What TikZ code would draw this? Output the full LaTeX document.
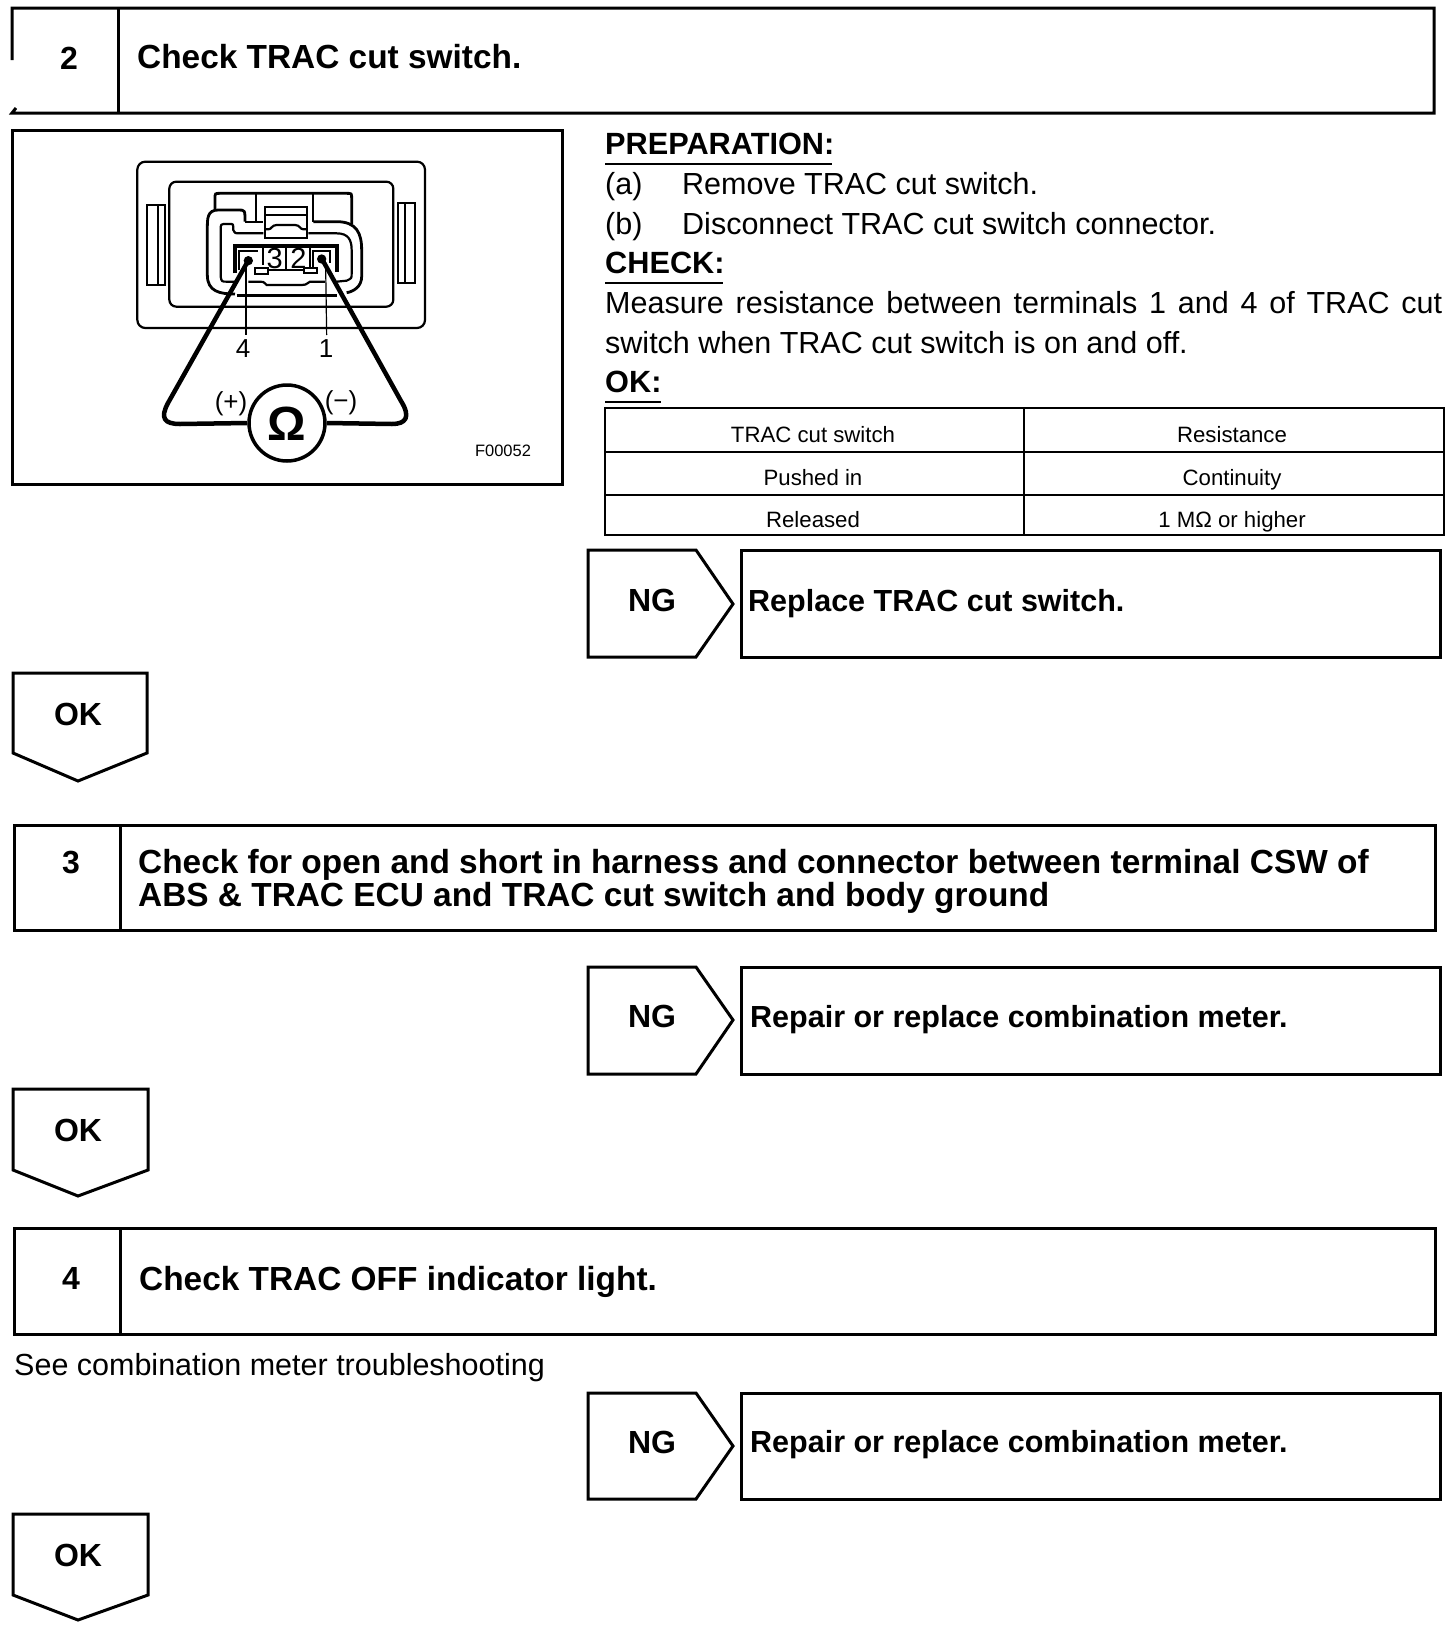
\documentclass[tikz,border=0pt]{standalone}
\usepackage{fontspec}
\setmainfont{Liberation Sans}
\tikzset{
  box/.style={line width=3pt,draw=black,line join=miter},
  part/.style={line width=2.2pt,draw=black},
  wire/.style={line width=4.5pt,draw=black,line join=round},
  thin line/.style={line width=1.2pt,draw=black},
  head/.style={anchor=base west,inner sep=0pt,font=\fontsize{33.4}{36}\selectfont\bfseries},
  heads/.style={anchor=base west,inner sep=0pt,font=\fontsize{30.5}{36}\selectfont\bfseries},
  headb/.style={anchor=base west,inner sep=0pt,font=\fontsize{30.7}{36}\selectfont\bfseries},
  num/.style={anchor=center,inner sep=0pt,font=\fontsize{32}{36}\selectfont\bfseries},
  body/.style={anchor=base west,inner sep=0pt,font=\fontsize{30.5}{36}\selectfont},
  cell/.style={anchor=base,inner sep=0pt,font=\fontsize{22.2}{28}\selectfont},
  small/.style={anchor=center,inner sep=0pt,font=\fontsize{26}{30}\selectfont},
}
\newcommand{\ngtag}[4]{% top, bottom, tip y, name
  \draw[box] (588,#1) -- (696,#1) -- (733,#3) -- (696,#2) -- (588,#2) -- cycle;
  \draw[box] (741,#1) rectangle (1440,#2);
  \node[num] (#4) at (652,#3-4) {NG};}
\newcommand{\oktag}[4]{% top, side bottom, tip y, name
  \draw[box] (13,#1) -- (#4,#1) -- (#4,#2) -- (78,#3) -- (13,#2) -- cycle;
  \node[num] at (78,#1+41) {OK};}
\begin{document}
\begin{tikzpicture}[x=1pt,y=-1pt]
\useasboundingbox (0,0) rectangle (1456,1630);
\fill[white] (0,0) rectangle (1456,1630);
% box 2
\draw[box] (12,60) -- (12,8) -- (1434,8) -- (1434,113) -- (12,113) -- (16,108);
\draw[box] (118,8) -- (118,113);
\node[num] (n2) at (69,58) {2};
\node[head] (t2) at (137,68) {Check TRAC cut switch.};
% illustration frame
\draw[box] (12,130) rectangle (562,484);
\begin{scope}[shift={(120,150)},x=0.33333pt,y=-0.33333pt]
  \draw[part,rounded corners=8pt] (52,35) rectangle (915,534);
  \draw[part,rounded corners=7pt] (148,95) rectangle (820,470);
  \draw[part] (82,165) rectangle (135,405);
  \draw[part] (115,165) -- (115,405);
  \draw[part] (835,158) rectangle (885,400);
  \draw[part] (855,158) -- (855,400);
  % housing outer
  \draw[part,line width=2.8pt] (285,180) -- (285,145) .. controls (285,130) .. (300,130) -- (680,130) .. controls (695,130) .. (695,145) -- (695,222);
  \draw[part,line width=2.8pt] (375,215) .. controls (375,180) .. (355,180) -- (295,180) .. controls (262,180) and (262,205) .. (262,235) -- (262,375) .. controls (262,425) and (300,432) .. (345,432);
  \draw[part,line width=2.8pt] (580,215) -- (650,215) .. controls (710,215) and (725,250) .. (725,300) -- (725,380) .. controls (725,410) and (700,425) .. (680,428);
  \draw[part] (375,215) -- (430,215);
  % housing inner
  \draw[part] (345,395) -- (320,395) .. controls (305,395) .. (302,380) -- (302,240) .. controls (302,222) .. (320,222) -- (330,222) .. controls (340,222) .. (340,240) .. controls (345,250) .. (360,250) -- (430,250);
  \draw[part] (565,250) -- (650,250) .. controls (685,250) and (695,270) .. (695,300) -- (695,370) .. controls (695,385) .. (680,392) -- (650,395);
  \draw[part] (408,130) -- (408,215);
  \draw[part] (580,130) -- (580,215);
  % latch
  \draw[part] (435,170) rectangle (560,265);
  \draw[part] (435,195) -- (560,195);
  \draw[part] (435,238) -- (445,238) .. controls (455,238) and (455,225) .. (470,225) -- (525,225) .. controls (540,225) and (540,238) .. (550,238) -- (560,238);
  % terminal block
  \draw[line width=4pt] (345,370) -- (345,287) -- (650,287) -- (650,365);
  \draw[part] (358,360) -- (358,302) -- (415,302);
  \draw[part] (430,287) -- (430,345);
  \draw[part] (498,287) -- (498,358);
  \draw[part] (570,287) -- (570,350);
  \draw[part] (578,350) -- (578,302) -- (630,302) -- (630,340);
  \draw[part] (405,355) rectangle (443,372);
  \draw[part] (553,353) rectangle (590,370);
  \draw[part] (443,360) -- (553,360);
  \node[anchor=center,inner sep=0pt,font=\fontsize{29}{30}\selectfont] (t3) at (464,327) {3};
  \node[anchor=center,inner sep=0pt,font=\fontsize{29}{30}\selectfont] (t22) at (535,325) {2};
  % lower rim
  \draw[part] (385,395) -- (420,395) .. controls (430,395) .. (440,405) -- (545,405) .. controls (555,405) .. (570,395) -- (615,395);
  \draw[line width=3pt] (350,435) -- (650,435);
  % probe dots
  \fill (385,332) circle (14);
  \fill (605,327) circle (14);
  % thin leader lines
  \draw[thin line] (378,350) -- (378,555);
  \draw[thin line] (617,350) -- (620,555);
\end{scope}
% meter
\node[draw,circle,line width=3.5pt,minimum size=76pt,inner sep=0pt,fill=white] (meter) at (287,423) {};
\node[anchor=center,inner sep=0pt,font=\fontsize{48}{50}\selectfont\bfseries] (omega) at (287,424) {Ω};
\coordinate (p4) at (248,261);
\coordinate (p1) at (322,259);
\draw[wire] (p4) -- (168,403) .. controls (160,418) and (164,424) .. (180,424) -- (meter.180);
\draw[wire] (p1) -- (401,401) .. controls (411,417) and (406,424) .. (392,424) -- (meter.0);
\node[small] (l4) at (243,349) {4};
\node[small] (l1) at (326,349) {1};
\node[small] (lp) at (231,404) {(+)};
\node[small] (lm) at (341,403) {(−)};
\node[anchor=center,inner sep=0pt,font=\fontsize{16.5}{20}\selectfont] (code) at (503,451) {F00052};
% right text
\node[headb] (prep) at (605,154) {PREPARATION:};
\draw[line width=1.6pt] (605,164) -- (832,164);
\node[body] (a1) at (605,194) {(a)};
\node[body] (a2) at (682,194) {Remove TRAC cut switch.};
\node[body] (b1) at (605,234) {(b)};
\node[body] (b2) at (682,234) {Disconnect TRAC cut switch connector.};
\node[headb] (chk) at (605,273) {CHECK:};
\draw[line width=1.6pt] (605,283) -- (723,283);
\node[body] (m1) at (605,313) {\hbox to 837pt{Measure\hfill resistance\hfill between\hfill terminals\hfill 1\hfill and\hfill 4\hfill of\hfill TRAC\hfill cut}};
\node[body] (m2) at (605,353) {switch when TRAC cut switch is on and off.};
\node[headb] (okh) at (605,392) {OK:};
\draw[line width=1.6pt] (605,402) -- (661,402);
% table
\draw[box,line width=2.6pt] (605,408) rectangle (1444,535);
\draw[box,line width=2.6pt] (605,452) -- (1444,452);
\draw[box,line width=2.6pt] (605,495) -- (1444,495);
\draw[box,line width=2.6pt] (1024,408) -- (1024,535);
\node[cell] (c11) at (813,442) {TRAC cut switch};
\node[cell] (c12) at (1232,442) {Resistance};
\node[cell] (c21) at (813,485) {Pushed in};
\node[cell] (c22) at (1232,485) {Continuity};
\node[cell] (c31) at (813,527) {Released};
\node[cell] (c32) at (1232,527) {1 MΩ or higher};
% NG 1
\ngtag{550}{657}{604}{ng1}
\node[heads] (r1) at (748,611) {Replace TRAC cut switch.};
% OK 1
\oktag{673}{753}{781}{147}
% box 3
\draw[box] (14,825) rectangle (1435,930);
\draw[box] (120,825) -- (120,930);
\node[num] (n3) at (71,862) {3};
\node[head] (t3a) at (138,873) {Check for open and short in harness and connector between terminal CSW of};
\node[head] (t3b) at (138,906) {ABS \& TRAC ECU and TRAC cut switch and body ground};
% NG 2
\ngtag{967}{1074}{1020}{ng2}
\node[heads] (r2) at (750,1027) {Repair or replace combination meter.};
% OK 2
\oktag{1089}{1170}{1196}{148}
% box 4
\draw[box] (14,1228) rectangle (1435,1334);
\draw[box] (120,1228) -- (120,1334);
\node[num] (n4) at (71,1278) {4};
\node[head] (t4) at (139,1290) {Check TRAC OFF indicator light.};
\node[body] (see) at (14,1375) {See combination meter troubleshooting};
% NG 3
\ngtag{1393}{1499}{1446}{ng3}
\node[heads] (r3) at (750,1452) {Repair or replace combination meter.};
% OK 3
\oktag{1514}{1595}{1620}{148}
\end{tikzpicture}
\end{document}
